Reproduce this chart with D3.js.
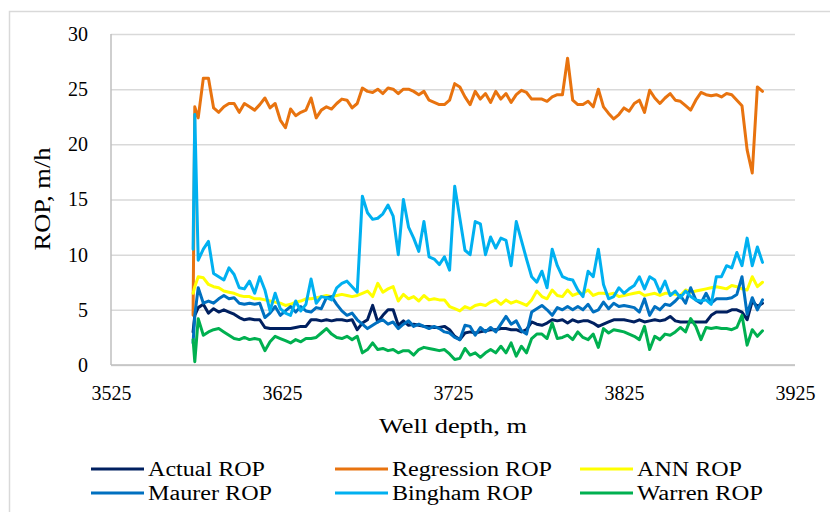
<!DOCTYPE html>
<html>
<head>
<meta charset="utf-8">
<script src="https://cdn.jsdelivr.net/npm/d3@7"></script>
<style>
  body { margin: 0; background: #fff; }
  svg text { fill: #000; }
</style>
</head>
<body>
<div id="chart"></div>
<script>
// well depth, m (shared by all series)
var depth = [3573, 3574,
  3576, 3579, 3582, 3585, 3588, 3591, 3594, 3597, 3600, 3603,
  3606, 3609, 3612, 3615, 3618, 3621, 3624, 3627, 3630, 3633,
  3636, 3639, 3642, 3645, 3648, 3651, 3654, 3657, 3660, 3663,
  3666, 3669, 3672, 3675, 3678, 3681, 3684, 3687, 3690, 3693,
  3696, 3699, 3702, 3705, 3708, 3711, 3714, 3717, 3720, 3723,
  3726, 3729, 3732, 3735, 3738, 3741, 3744, 3747, 3750, 3753,
  3756, 3759, 3762, 3765, 3768, 3771, 3774, 3777, 3780, 3783,
  3786, 3789, 3792, 3795, 3798, 3801, 3804, 3807, 3810, 3813,
  3816, 3819, 3822, 3825, 3828, 3831, 3834, 3837, 3840, 3843,
  3846, 3849, 3852, 3855, 3858, 3861, 3864, 3867, 3870, 3873,
  3876, 3879, 3882, 3885, 3888, 3891, 3894, 3897, 3900, 3903,
  3906];

var actualROP = [3.0, 4.5,
  5.2, 5.5, 4.7, 5.1, 4.8, 5.0, 4.8, 4.6, 4.3, 4.1,
  4.2, 4.1, 4.1, 3.4, 3.3, 3.3, 3.3, 3.3, 3.3, 3.4,
  3.5, 3.5, 4.1, 4.1, 4.0, 4.1, 4.0, 4.1, 4.1, 4.0,
  4.1, 3.2, 3.8, 4.1, 5.4, 3.9, 4.5, 5.0, 5.0, 3.6,
  4.0, 3.6, 3.7, 3.6, 3.5, 3.5, 3.4, 3.4, 3.5, 3.2,
  2.6, 2.3, 2.9, 3.0, 2.9, 3.0, 3.1, 3.2, 3.2, 3.3,
  3.3, 3.2, 3.2, 3.0, 3.2, 3.9, 3.7, 3.6, 3.8, 4.1,
  4.0, 4.1, 3.8, 4.1, 3.9, 4.0, 4.0, 3.8, 3.5, 3.7,
  3.9, 4.1, 4.1, 4.1, 4.0, 3.9, 4.1, 3.9, 4.0, 4.1,
  4.0, 4.1, 4.4, 4.0, 3.9, 3.9, 3.9, 3.9, 3.9, 3.9,
  4.5, 4.8, 4.8, 4.8, 5.0, 5.0, 4.8, 4.1, 5.8, 5.3,
  5.6];

var regressionROP = [4.5, 23.4,
  22.4, 26.0, 26.0, 23.3, 22.9, 23.4, 23.7, 23.7, 22.9, 23.7,
  23.4, 23.1, 23.6, 24.2, 23.3, 23.7, 22.2, 21.5, 23.2, 22.6,
  22.9, 23.1, 24.2, 22.4, 23.1, 23.4, 23.2, 23.7, 24.1, 24.0,
  23.3, 23.7, 25.1, 24.8, 24.7, 25.0, 24.6, 25.1, 25.0, 24.6,
  25.0, 25.0, 24.8, 24.5, 24.8, 24.0, 23.8, 23.6, 23.6, 24.0,
  25.5, 25.2, 24.3, 23.6, 24.8, 24.1, 24.6, 23.8, 24.8, 24.1,
  24.6, 23.8, 24.5, 24.9, 24.7, 24.1, 24.1, 24.1, 23.9, 24.3,
  24.5, 24.5, 27.8, 24.0, 23.6, 23.6, 23.9, 23.4, 25.0, 23.4,
  22.8, 22.3, 22.7, 23.3, 23.0, 23.7, 24.0, 22.9, 24.9, 24.2,
  23.7, 24.2, 24.6, 24.0, 23.9, 23.5, 23.1, 24.0, 24.7, 24.5,
  24.4, 24.5, 24.3, 24.6, 24.5, 24.0, 23.5, 19.5, 17.4, 25.2,
  24.8];

var annROP = [6.5, 7.1,
  8.0, 7.9, 7.3, 7.1, 7.0, 6.7, 6.6, 6.5, 6.3, 6.2,
  6.2, 6.0, 6.0, 5.9, 5.8, 5.7, 5.6, 5.4, 5.5, 5.7,
  5.8, 6.0, 6.0, 6.1, 6.2, 6.3, 6.2, 6.3, 6.4, 6.3,
  6.2, 6.3, 6.5, 6.7, 6.2, 7.4, 6.6, 6.9, 7.1, 5.8,
  6.4, 6.0, 6.2, 5.8, 6.3, 5.9, 6.0, 5.9, 5.9, 5.3,
  5.1, 4.9, 5.3, 5.1, 5.4, 5.5, 5.4, 5.7, 5.9, 5.5,
  5.9, 5.6, 5.8, 5.6, 5.4, 5.9, 6.7, 6.2, 6.0, 6.8,
  6.3, 6.2, 6.8, 6.3, 6.5, 6.5, 6.8, 6.3, 6.5, 6.5,
  6.4, 6.5, 6.2, 6.3, 6.4, 6.5, 6.6, 6.3, 6.4, 6.5,
  6.3, 6.5, 6.5, 6.4, 6.3, 6.8, 6.6, 6.7, 6.8, 6.9,
  7.0, 7.1, 7.0, 6.9, 7.2, 7.1, 6.9, 6.8, 8.0, 7.1,
  7.5];

var maurerROP = [2.0, 4.5,
  7.0, 5.6, 5.8, 5.6, 6.0, 6.3, 6.0, 6.1, 5.6, 5.5,
  5.6, 5.5, 5.6, 4.3, 4.7, 5.3, 4.5, 4.9, 5.3, 4.8,
  5.3, 4.9, 4.8, 5.2, 5.1, 6.1, 6.2, 5.5, 4.9, 4.5,
  4.7, 4.1, 3.7, 3.3, 3.6, 3.9, 4.1, 3.7, 3.9, 3.3,
  3.7, 4.0, 3.5, 3.7, 3.5, 3.3, 3.5, 3.3, 3.0, 2.9,
  2.5, 2.3, 3.6, 3.5, 2.7, 3.4, 3.0, 3.4, 3.0, 3.7,
  4.4, 3.7, 4.0, 3.1, 2.8, 4.8, 5.1, 5.4, 5.0, 4.5,
  5.2, 5.0, 5.3, 5.0, 5.3, 5.0, 5.5, 4.8, 5.0, 5.7,
  5.1, 5.6, 5.3, 5.4, 5.3, 5.2, 4.8, 6.0, 4.5, 5.3,
  5.0, 5.5, 5.4, 5.8, 6.3, 5.6, 7.0, 5.9, 5.6, 6.5,
  5.6, 6.0, 6.0, 6.0, 6.1, 6.4, 8.0, 4.6, 6.1, 5.0,
  5.9];

var binghamROP = [10.5, 22.7,
  9.5, 10.5, 11.2, 8.3, 8.0, 7.7, 8.8, 8.2, 7.0, 6.9,
  7.6, 6.5, 8.0, 6.8, 4.9, 6.5, 5.1, 4.7, 4.5, 5.8,
  4.9, 5.5, 7.8, 5.6, 6.2, 6.1, 5.9, 7.0, 7.4, 7.6,
  7.1, 6.6, 15.3, 13.8, 13.2, 13.3, 13.7, 14.5, 13.5, 10.0,
  15.0, 12.5, 11.5, 10.3, 13.0, 9.8, 9.6, 9.1, 9.8, 8.6,
  16.2, 13.3, 10.4, 10.0, 13.0, 12.8, 10.0, 11.6, 10.6, 11.5,
  11.3, 9.0, 13.0, 11.3, 9.6, 8.0, 7.5, 8.5, 7.0, 10.5,
  9.0, 8.0, 7.8, 7.7, 6.8, 6.2, 8.5, 8.0, 10.5, 7.3,
  6.0, 6.2, 7.0, 6.5, 6.9, 7.2, 8.0, 6.9, 8.0, 7.7,
  6.6, 7.6, 6.3, 6.7, 6.1, 6.7, 6.2, 5.9, 5.8, 5.9,
  5.5, 8.0, 8.0, 9.0, 8.8, 10.2, 9.0, 11.5, 9.0, 10.7,
  9.3];

var warrenROP = [2.3, 0.3,
  4.2, 2.7, 3.0, 3.2, 3.3, 3.0, 2.7, 2.4, 2.3, 2.5,
  2.3, 2.4, 2.3, 1.3, 2.1, 2.6, 2.4, 2.2, 2.0, 2.3,
  2.1, 2.4, 2.4, 2.5, 2.9, 3.3, 2.8, 2.5, 2.4, 2.6,
  2.3, 2.6, 1.1, 1.4, 2.0, 1.4, 1.5, 1.3, 1.4, 1.1,
  1.3, 1.3, 0.9, 1.4, 1.6, 1.5, 1.4, 1.3, 1.4, 1.0,
  0.5, 0.6, 1.5, 0.9, 1.1, 0.7, 1.1, 1.4, 1.1, 1.7,
  1.1, 2.0, 0.8, 1.7, 1.1, 2.4, 2.8, 2.8, 2.4, 3.8,
  2.4, 2.5, 2.7, 2.3, 3.0, 2.5, 2.3, 2.8, 1.6, 3.3,
  2.9, 3.2, 3.1, 3.0, 2.8, 2.6, 2.3, 3.5, 1.4, 2.6,
  2.3, 2.8, 2.7, 3.0, 3.4, 3.0, 4.2, 3.5, 2.3, 3.4,
  3.3, 3.4, 3.3, 3.3, 3.2, 3.4, 4.5, 1.8, 3.2, 2.6,
  3.1];

var seriesNames = ["Actual ROP", "Regression ROP", "ANN ROP", "Maurer ROP", "Bingham ROP", "Warren ROP"];
var seriesValues = [actualROP, regressionROP, annROP, maurerROP, binghamROP, warrenROP];
var seriesColors = ["#002060", "#E8730F", "#FFFF00", "#0070C0", "#00B0F0", "#00B050"];

var xTicks = [3525, 3625, 3725, 3825, 3925];
var yTicks = [0, 5, 10, 15, 20, 25, 30];

// layout of the legend (px)
var legX = [91, 335, 580], legY = [469, 493];
var legTextLen = [117, 160, 105, 124, 141, 126];

var FONT = '"Liberation Serif", "Times New Roman", serif';

// set the dimensions and margins of the graph
var W = 830, H = 512;
var margin = { top: 34, right: 35, bottom: 147, left: 111 },
  width = W - margin.left - margin.right,
  height = H - margin.top - margin.bottom;

var svg = d3.select("#chart")
  .append("svg")
  .attr("width", W)
  .attr("height", H)
  .attr("font-family", FONT);

// chart frame
svg.append("rect")
  .attr("x", 9.5).attr("y", 11.5)
  .attr("width", W).attr("height", H)
  .style("fill", "none")
  .style("stroke", "#D9D9D9")
  .style("stroke-width", 1.5);

var g = svg.append("g")
  .attr("transform", "translate(" + margin.left + "," + margin.top + ")");

var x = d3.scaleLinear().domain([3525, 3925]).range([0, width]);
var y = d3.scaleLinear().domain([0, 30]).range([height, 0]);

// y axis + gridlines
var yAxis = g.append("g")
  .call(d3.axisLeft(y).tickValues(yTicks).tickSize(-width).tickPadding(23));
yAxis.attr("font-family", FONT).attr("font-size", 20);
yAxis.select(".domain").remove();
yAxis.selectAll(".tick line").style("stroke", "#D9D9D9").style("stroke-width", 1.5);

// x axis
var xAxis = g.append("g")
  .attr("transform", "translate(0," + height + ")")
  .call(d3.axisBottom(x).tickValues(xTicks).tickFormat(d3.format("d")).tickSize(0).tickPadding(21));
xAxis.attr("font-family", FONT).attr("font-size", 20);
xAxis.select(".domain").remove();

// axis lines
g.append("line")
  .attr("x1", 0).attr("x2", 0).attr("y1", 0).attr("y2", height)
  .style("stroke", "#BFBFBF").style("stroke-width", 1.5);
g.append("line")
  .attr("x1", 0).attr("x2", width).attr("y1", height).attr("y2", height)
  .style("stroke", "#BFBFBF").style("stroke-width", 1.5);

// series lines
var line = d3.line()
  .x(function (d) { return x(d[0]); })
  .y(function (d) { return y(d[1]); });

seriesValues.forEach(function (vals, k) {
  var pts = depth.map(function (d, i) { return [d, vals[i]]; })
    .filter(function (p) { return p[1] != null; });
  g.append("path")
    .datum(pts)
    .attr("d", line)
    .style("fill", "none")
    .style("stroke", seriesColors[k])
    .style("stroke-width", 3)
    .style("stroke-linejoin", "round")
    .style("stroke-linecap", "round");
});

// axis titles
svg.append("text")
  .attr("x", 453).attr("y", 433)
  .attr("text-anchor", "middle")
  .attr("textLength", 148)
  .attr("lengthAdjust", "spacingAndGlyphs")
  .style("font-size", "22px")
  .text("Well depth, m");

svg.append("text")
  .attr("transform", "translate(50,199) rotate(-90)")
  .attr("text-anchor", "middle")
  .attr("textLength", 103)
  .attr("lengthAdjust", "spacingAndGlyphs")
  .style("font-size", "24px")
  .text("ROP, m/h");

// legend
seriesNames.forEach(function (name, k) {
  var lx = legX[k % 3], ly = legY[Math.floor(k / 3)];
  svg.append("line")
    .attr("x1", lx).attr("x2", lx + 53).attr("y1", ly).attr("y2", ly)
    .style("stroke", seriesColors[k]).style("stroke-width", 3);
  svg.append("text")
    .attr("x", lx + 57).attr("y", ly + 7)
    .attr("textLength", legTextLen[k])
    .attr("lengthAdjust", "spacingAndGlyphs")
    .style("font-size", "20px")
    .text(name);
});
</script>
</body>
</html>
